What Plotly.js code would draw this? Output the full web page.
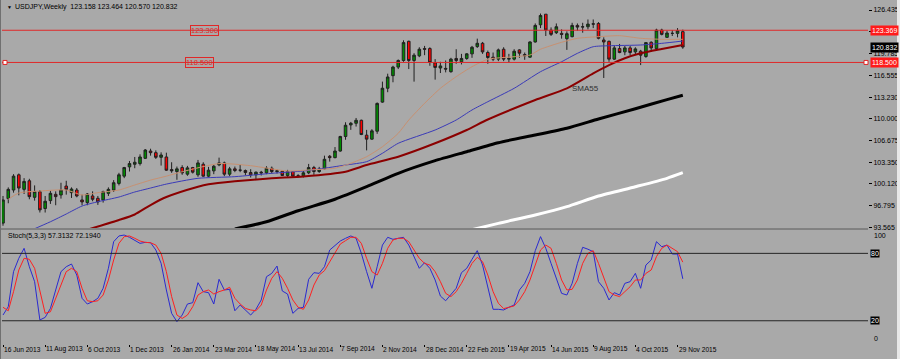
<!DOCTYPE html>
<html><head><meta charset="utf-8">
<script src="https://cdn.plot.ly/plotly-3.0.1.min.js"></script>
<style>html,body{margin:0;padding:0;background:#a9a9a9;}#chart{width:900px;height:359px;}</style>
</head><body><div id="chart"></div>
<script>
const weeks = [
"2013-06-16","2013-06-23","2013-06-30","2013-07-07","2013-07-14","2013-07-21","2013-07-28","2013-08-04","2013-08-11","2013-08-18",
"2013-08-25","2013-09-01","2013-09-08","2013-09-15","2013-09-22","2013-09-29","2013-10-06","2013-10-13","2013-10-20","2013-10-27",
"2013-11-03","2013-11-10","2013-11-17","2013-11-24","2013-12-01","2013-12-08","2013-12-15","2013-12-22","2013-12-29","2014-01-05",
"2014-01-12","2014-01-19","2014-01-26","2014-02-02","2014-02-09","2014-02-16","2014-02-23","2014-03-02","2014-03-09","2014-03-16",
"2014-03-23","2014-03-30","2014-04-06","2014-04-13","2014-04-20","2014-04-27","2014-05-04","2014-05-11","2014-05-18","2014-05-25",
"2014-06-01","2014-06-08","2014-06-15","2014-06-22","2014-06-29","2014-07-06","2014-07-13","2014-07-20","2014-07-27","2014-08-03",
"2014-08-10","2014-08-17","2014-08-24","2014-08-31","2014-09-07","2014-09-14","2014-09-21","2014-09-28","2014-10-05","2014-10-12",
"2014-10-19","2014-10-26","2014-11-02","2014-11-09","2014-11-16","2014-11-23","2014-11-30","2014-12-07","2014-12-14","2014-12-21",
"2014-12-28","2015-01-04","2015-01-11","2015-01-18","2015-01-25","2015-02-01","2015-02-08","2015-02-15","2015-02-22","2015-03-01",
"2015-03-08","2015-03-15","2015-03-22","2015-03-29","2015-04-05","2015-04-12","2015-04-19","2015-04-26","2015-05-03","2015-05-10",
"2015-05-17","2015-05-24","2015-05-31","2015-06-07","2015-06-14","2015-06-21","2015-06-28","2015-07-05","2015-07-12","2015-07-19",
"2015-07-26","2015-08-02","2015-08-09","2015-08-16","2015-08-23","2015-08-30","2015-09-06","2015-09-13","2015-09-20","2015-09-27",
"2015-10-04","2015-10-11","2015-10-18","2015-10-25","2015-11-01","2015-11-08","2015-11-15","2015-11-22","2015-11-29","2015-12-06"];

const openP = [94.2,97.9,99.2,101.5,99.3,100.6,98.1,98.95,96.4,97.6,
98.55,98.45,99.8,98.8,99.2,97.7,97.3,98.3,97.95,97.7,
98.7,99.2,100.2,101.3,102.7,103.1,103.2,104.0,105.1,104.85,
104.15,104.2,102.3,102.0,102.6,101.6,102.6,101.5,103.1,101.3,
102.1,103.0,103.3,101.6,102.4,102.2,102.15,101.85,101.5,101.9,
101.8,102.5,102.0,102.05,101.4,102.0,101.35,101.35,101.8,102.6,
102.0,102.4,104.3,104.1,105.1,107.3,109.05,109.3,109.75,107.5,
106.9,108.1,112.5,114.6,116.5,117.8,118.8,121.7,118.8,119.5,
120.6,120.6,118.45,117.66,117.6,117.1,119.1,118.6,119.1,119.8,
120.9,121.4,120.0,119.3,119.0,120.5,119.0,119.0,120.4,119.7,
119.3,121.6,124.2,125.8,123.4,123.0,122.9,122.1,122.4,124.1,
123.85,123.9,124.35,124.4,121.9,121.7,119.0,120.6,120.1,120.7,
120.1,120.2,119.4,121.55,120.6,123.4,122.3,122.9,122.9,123.158];
const highP = [98.3,99.6,101.6,101.7,101.0,100.9,99.9,99.2,98.3,99.1,
99.0,100.3,100.6,99.6,99.5,98.5,98.75,99.0,98.3,99.1,
99.6,100.7,101.8,102.7,103.6,104.2,104.6,105.4,105.45,105.2,
104.9,104.85,103.4,102.75,102.95,102.85,102.7,103.75,103.4,102.7,
103.0,104.1,103.5,102.7,102.75,103.0,102.3,102.35,102.0,102.1,
102.8,102.75,102.3,102.2,102.25,102.05,101.6,102.1,103.15,102.85,
102.7,104.4,104.5,105.7,107.4,109.45,109.5,110.1,109.85,108.3,
108.4,112.45,115.6,116.8,118.0,118.95,121.85,121.8,119.9,120.8,
121.0,120.8,119.0,118.6,118.8,119.2,120.5,119.8,119.9,121.0,
122.1,121.6,120.3,120.0,120.6,120.8,119.8,120.5,120.5,120.0,
121.7,124.4,125.9,125.8,123.8,124.4,123.5,123.2,124.5,124.4,
124.5,125.0,125.0,124.6,122.3,121.8,121.0,121.3,121.0,121.0,
120.8,120.4,121.5,121.7,123.6,123.6,123.3,123.4,123.7,123.464];
const lowP = [93.8,97.2,98.8,98.4,98.6,97.8,97.6,95.8,95.8,97.1,
96.9,97.9,98.5,98.0,98.1,96.9,96.9,97.5,96.95,97.3,
98.3,98.9,99.9,101.0,102.0,102.5,102.9,103.9,104.4,103.9,
102.9,102.1,101.8,100.75,101.5,101.35,101.7,101.2,101.2,101.15,
101.6,102.8,101.3,101.3,101.9,101.9,101.45,101.1,100.8,101.4,
101.6,101.7,101.7,101.35,101.2,101.1,101.1,101.1,101.6,101.5,
101.8,102.3,103.5,104.0,105.0,106.8,108.3,108.8,107.5,105.2,
106.8,107.7,112.4,114.0,115.5,117.5,118.6,117.5,115.6,119.3,
119.6,118.0,115.9,116.9,117.0,116.95,118.3,118.2,118.9,119.2,
120.7,119.8,118.3,118.7,118.7,118.7,118.5,118.8,119.2,118.9,
119.2,121.5,123.7,122.5,122.5,122.8,122.1,120.4,122.3,123.3,
123.0,123.5,123.7,122.0,116.15,118.6,118.9,119.9,119.6,119.6,
119.7,118.1,119.2,120.1,120.3,122.6,122.2,122.5,122.3,120.570];
const closeP = [97.7,99.3,101.3,99.5,100.5,98.2,98.95,96.2,97.5,98.7,
98.2,99.2,99.3,99.35,98.3,97.4,98.6,97.8,97.4,98.95,
99.3,100.3,101.5,102.6,103.2,103.4,104.2,105.25,104.85,104.15,
104.5,102.2,102.1,102.4,101.8,102.55,101.9,103.3,101.3,102.2,
102.8,103.3,101.6,102.4,102.15,102.2,101.85,101.5,101.9,101.8,
102.5,102.0,102.1,101.4,102.0,101.3,101.35,101.8,102.6,102.0,
102.35,103.85,104.1,105.1,107.3,109.0,109.3,109.75,107.6,106.9,
108.15,112.3,114.6,116.3,117.8,118.8,121.5,118.8,119.6,120.5,
120.5,118.5,117.75,117.97,117.5,119.0,118.8,119.1,119.8,120.8,
121.4,120.1,119.25,119.0,120.4,119.0,119.1,120.2,119.9,119.5,
121.6,124.1,125.6,123.4,122.75,123.9,122.75,122.85,124.1,123.85,
123.9,124.3,124.3,122.15,121.6,119.0,120.7,120.0,120.7,120.0,
120.55,119.6,121.5,120.7,123.4,122.75,122.95,122.9,123.3,120.832];

// moving averages: bar index into weeks + value
const sma21Idx = [1,3,7,12,15,18,22,25,28,31,34,41,47,54,58,63,66,69,72,75,77,80,83,86,89,92,97,100,102,106,109,113,117,121,125,129];
const sma21Val = [97.8,98.75,99.05,99.2,98.45,98.8,99.2,99.96,100.7,101.3,101.97,103.2,102.88,102.08,102.23,102.5,103.24,104.24,105.75,107.78,109.79,112.32,114.59,116.35,117.86,118.98,119.37,119.62,120.5,121.55,122.15,122.4,122.55,122.15,122.0,122.0];
const smaBlueIdx = [5,9,12,15,18,22,25,28,31,37,44,51,57,60,65,69,72,75,82,86,89,92,97,102,106,109,112,115,121,125,129];
const smaBlueVal = [93.0,94.4,95.57,96.78,97.43,98.14,98.9,99.5,100.1,100.97,101.22,101.73,102.08,102.38,102.98,103.49,104.76,106.27,108.28,109.79,111.31,112.56,114.59,117.1,118.61,119.88,120.88,121.03,121.14,121.39,121.74];
const sma55Idx = [16,22,25,28,31,37,39,44,51,57,65,69,75,82,88,92,101,107,112,115,118,121,125,129];
const sma55Val = [93.2,94.66,95.5,96.93,98.14,99.7,100.07,100.52,100.97,101.25,101.97,102.98,104.24,106.27,108.28,109.87,112.82,114.59,116.86,118.11,119.13,119.88,120.53,121.14];
const sma100Idx = [44,50,56,63,69,75,82,88,94,101,107,113,120,126,129];
const sma100Val = [93.3,94.4,96.07,97.8,99.7,101.73,103.64,105.0,106.36,107.52,108.54,109.94,111.5,112.87,113.53];
const sma200Idx = [89,94,101,107,113,120,126,129];
const sma200Val = [93.2,94.16,95.42,96.68,98.29,99.7,100.97,101.82];

const stochMain = [25.1,32.5,63.7,75.6,84.5,68.1,54.8,20.7,23,31,
47.4,63.7,68.1,70.5,60.7,40,34.9,37,40,48.9,
66.7,90.4,95.5,96.3,94.3,91.9,88.9,89.8,89.5,83,
71.1,47.4,26.6,19.2,25.1,34.9,36.1,53.9,45.9,45,
34.9,56.9,47.4,48,28.9,34,29.6,25.1,30.2,38.5,
59.2,62.2,68.7,46.5,43.8,26.6,31,32,56.9,62.8,
62.2,68.1,83,87.4,91,93.4,95.5,93.4,80,63.7,
48.9,68.1,87.4,94.3,92.5,93.4,94.3,87.4,76.5,66.7,
71.7,66.7,56.3,42,37.8,42.9,48.9,62.8,66.7,74.7,
82.4,69.6,50.3,30.2,30.2,29.6,32,34,47.4,53.3,
63.7,82.4,94.9,84.5,71.1,57.8,44.4,42.9,53.3,71.1,
85.4,83.7,81.5,54.8,48.9,38.5,45,42.9,53.3,54.8,
62.2,48.9,69.6,74.1,90.4,85.9,87.4,79.4,79.4,57.3132];
const stochSignal = [32,28.9,45.9,65.2,75.6,74.7,66.7,47.4,26.6,28,
40,53.3,63.7,66.7,63.7,48.9,37.8,37,37.8,42.9,
56.3,74.1,88.9,94.9,95.5,93.4,91,89.8,89.5,87.4,
80,63.7,41.5,25.1,22,25.1,32.5,42.9,45.9,47.4,
43.8,45.9,47.4,49.8,40,34.9,31,29.6,28.9,34,
47.4,57.8,63.7,57.8,48.9,38.5,32,30.2,38.5,51.8,
60.7,64.6,72.6,81.5,88.3,91.3,94.3,94.3,88.9,75.6,
63.7,60.7,71.1,84.5,91.9,93.4,93.4,90.4,83,75.6,
71.1,69.6,63.7,54.8,44.4,41.5,45.9,53.3,62.2,71.1,
76.5,72.6,60.7,45.9,35.6,30.8,32,33.2,38.5,45.9,
56.3,69.6,83,87.4,84.5,71.1,56.3,47.4,48,56.3,
71.1,80,82.4,71.1,57.8,45.9,42.9,41.5,45.9,50.3,
56.3,56.3,62.2,65.2,77.1,84.5,87.4,84.5,81.5,72.1940];

const dateTickIdx = [0,8,16,24,32,40,48,56,64,72,80,88,96,104,112,120,128];
const dateTickText = ["16 Jun 2013","11 Aug 2013","6 Oct 2013","1 Dec 2013","26 Jan 2014","23 Mar 2014","18 May 2014","13 Jul 2014","7 Sep 2014","2 Nov 2014","28 Dec 2014","22 Feb 2015","19 Apr 2015","14 Jun 2015","9 Aug 2015","4 Oct 2015","29 Nov 2015"];
const priceTicks = [126.435,123.110,119.785,116.555,113.230,110.000,106.675,103.350,100.120,96.795,93.565];
const priceTickText = ["126.435","123.110","119.785","116.555","113.230","110.000","106.675","103.350","100.120","96.795","93.565"];
const hLines = [123.369,118.500];
const hLineNames = ["123.300","118.500"];
const lastClose = 120.832;
const stochLevels = [80,20];

const FONT = "Liberation Sans, Arial, sans-serif";
const pick = (idx, arr) => idx.map(i => arr[i]);
const sp = {shape:'spline', smoothing:0.6};

const traces = [
  {type:'candlestick', x:weeks, open:openP, high:highP, low:lowP, close:closeP,
   xaxis:'x', yaxis:'y', whiskerwidth:0, hoverinfo:'skip',
   increasing:{line:{color:'#202020',width:1}, fillcolor:'#008c00'},
   decreasing:{line:{color:'#202020',width:1}, fillcolor:'#ff0000'}},
  {type:'scatter', mode:'lines', x:pick(sma200Idx,weeks), y:sma200Val, yaxis:'y', line:Object.assign({color:'#ffffff',width:3},sp)},
  {type:'scatter', mode:'lines', x:pick(sma100Idx,weeks), y:sma100Val, yaxis:'y', line:Object.assign({color:'#000000',width:3},sp)},
  {type:'scatter', mode:'lines', x:pick(sma55Idx,weeks), y:sma55Val, yaxis:'y', line:Object.assign({color:'#8b0000',width:2},sp)},
  {type:'scatter', mode:'lines', x:pick(smaBlueIdx,weeks), y:smaBlueVal, yaxis:'y', line:Object.assign({color:'#3a3ab8',width:1},sp)},
  {type:'scatter', mode:'lines', x:pick(sma21Idx,weeks), y:sma21Val, yaxis:'y', line:Object.assign({color:'#c89070',width:1},sp)},
  {type:'scatter', mode:'lines', x:weeks, y:stochMain, yaxis:'y2', line:{color:'#2a2ad0',width:1}},
  {type:'scatter', mode:'lines', x:weeks, y:stochSignal, yaxis:'y2', line:{color:'#ff2020',width:1}}
];

const PT=2, PB=344, PL=2, PR=868, PH=PB-PT, PW=PR-PL;
const px = v => (v-PL)/PW;
const py = v => (PB-v)/PH;

const shapes = [];
hLines.forEach(v => shapes.push({type:'line', xref:'paper', x0:0, x1:1, yref:'y', y0:v, y1:v, line:{color:'#e02828',width:1}}));
stochLevels.forEach(v => shapes.push({type:'line', xref:'paper', x0:0, x1:1, yref:'y2', y0:v, y1:v, line:{color:'#262626',width:1}}));
shapes.push({type:'line', xref:'paper', x0:px(0), x1:px(868), yref:'paper', y0:py(229), y1:py(229), line:{color:'#5a5a5a',width:1}});
shapes.push({type:'line', xref:'paper', x0:px(0.5), x1:px(0.5), yref:'paper', y0:py(0), y1:py(359), line:{color:'#707070',width:1}});
shapes.push({type:'rect', xref:'paper', x0:px(897), x1:px(900), yref:'paper', y0:py(0), y1:py(359), fillcolor:'#e8e8e8', line:{width:0}});
shapes.push({type:'rect', xref:'paper', yref:'y', xsizemode:'pixel', ysizemode:'pixel', xanchor:px(5), yanchor:hLines[1], x0:-2, x1:2, y0:-2, y1:2, fillcolor:'#ffffff', line:{color:'#e02828',width:1}});
shapes.push({type:'rect', xref:'paper', yref:'y', xsizemode:'pixel', ysizemode:'pixel', xanchor:px(866), yanchor:hLines[1], x0:-2, x1:2, y0:-2, y1:2, fillcolor:'#ffffff', line:{color:'#e02828',width:1}});

const ann = [];
const txt = (x,y,text,opt={}) => ann.push(Object.assign({xref:'paper', yref:'paper', x:px(x), y:py(y), text, showarrow:false, xanchor:'left', yanchor:'middle', font:{family:FONT,size:7,color:'#000'}}, opt));
txt(5,7,'▼',{font:{family:FONT,size:5,color:'#000'}});
txt(13,7,'USDJPY,Weekly&nbsp;&nbsp;123.158 123.464 120.570 120.832');
txt(6,236,'Stoch(5,3,3) 57.3132 72.1940');
txt(570,88,'SMA55',{font:{family:FONT,size:8,color:'#303030'}});
txt(204.5,30,hLineNames[0],{xanchor:'center', bordercolor:'#e02828', borderwidth:1, borderpad:0, font:{family:FONT,size:7.5,color:'#e02828'}});
txt(199.5,62,hLineNames[1],{xanchor:'center', bordercolor:'#e02828', borderwidth:1, borderpad:0, font:{family:FONT,size:7.5,color:'#e02828'}});
const boxLabel = (val, bg) => ann.push({xref:'paper', yref:'y', x:1, xshift:2, y:val, xanchor:'left', yanchor:'middle', showarrow:false, text:val.toFixed(3), bgcolor:bg, borderpad:1, font:{family:FONT,size:7,color:'#ffffff'}});
boxLabel(hLines[0],'#ff1a1a');
boxLabel(lastClose,'#000000');
boxLabel(hLines[1],'#ff1a1a');
txt(872,235,'100');
txt(872,338,'0');
stochLevels.forEach(v => ann.push({xref:'paper', yref:'y2', x:1, xshift:2, y:v, xanchor:'left', yanchor:'middle', showarrow:false, text:String(v), bgcolor:'#000000', borderpad:0, font:{family:FONT,size:7,color:'#ffffff'}}));
// date labels (left-aligned at their week, as in the terminal)
dateTickIdx.forEach((i,k) => ann.push({xref:'x', yref:'paper', x:weeks[i], y:py(349), xanchor:'left', yanchor:'middle', xshift:-1, showarrow:false, text:dateTickText[k], font:{family:FONT,size:6.6,color:'#000'}}));

const layout = {
  width:900, height:359,
  margin:{l:PL, r:900-PR, t:PT, b:359-PB},
  paper_bgcolor:'#a9a9a9', plot_bgcolor:'#a9a9a9',
  showlegend:false, hovermode:false,
  font:{family:FONT,size:7,color:'#000'},
  xaxis:{type:'date', anchor:'y2', range:['2013-06-14 16:00','2016-08-08'], rangeslider:{visible:false},
         showgrid:false, zeroline:false, showline:false,
         tickmode:'array', tickvals:pick(dateTickIdx,weeks), ticktext:dateTickText, showticklabels:false,
         ticks:'outside', ticklen:2, tickcolor:'#000'},
  yaxis:{domain:[py(228),1], range:[93.455,127.645], side:'right', showgrid:false, zeroline:false, showline:false,
         tickmode:'array', tickvals:priceTicks, ticktext:priceTickText, ticks:'outside', ticklen:3, tickcolor:'#000',
         tickfont:{family:FONT,size:7,color:'#000'}},
  yaxis2:{domain:[0,py(230.9)], range:[-0.7,100], side:'right', showgrid:false, zeroline:false, showline:false,
          showticklabels:false, ticks:''},
  shapes, annotations:ann
};
Plotly.newPlot('chart', traces, layout, {staticPlot:true, displayModeBar:false});
</script></body></html>
